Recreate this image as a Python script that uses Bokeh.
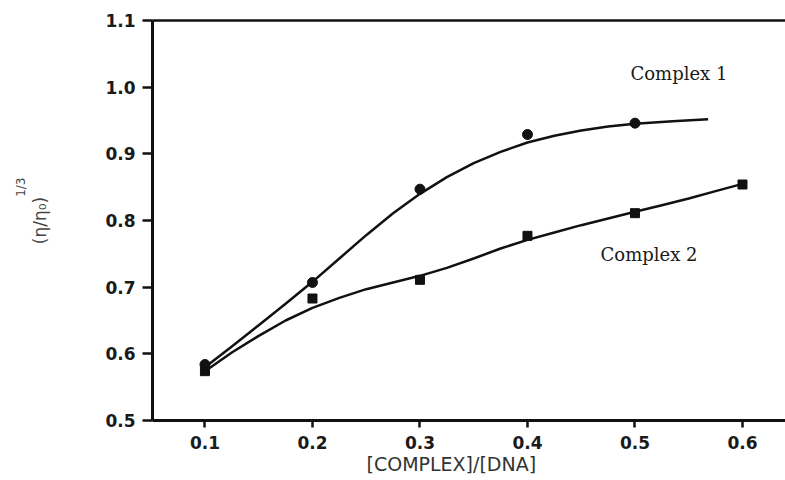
from bokeh.plotting import figure
from bokeh.models import Range1d, LinearAxis, Label, FixedTicker, PrintfTickFormatter, Title
from bokeh.embed import file_html
from bokeh.resources import INLINE

# measured points
x1 = [0.1, 0.2, 0.3, 0.4, 0.5]
y1 = [0.584, 0.707, 0.847, 0.929, 0.946]
x2 = [0.1, 0.2, 0.3, 0.4, 0.5, 0.6]
y2 = [0.574, 0.683, 0.711, 0.777, 0.811, 0.854]

# fitted curves
fit1_x = [0.1, 0.125, 0.15, 0.175, 0.2, 0.225, 0.25, 0.275, 0.3, 0.325, 0.35,
          0.375, 0.4, 0.425, 0.45, 0.475, 0.5, 0.535, 0.568]
fit1_y = [0.580, 0.611, 0.643, 0.675, 0.708, 0.743, 0.778, 0.811, 0.840, 0.865, 0.886,
          0.903, 0.917, 0.927, 0.935, 0.941, 0.945, 0.949, 0.952]
fit2_x = [0.1, 0.125, 0.15, 0.175, 0.2, 0.225, 0.25, 0.275, 0.3, 0.325, 0.35,
          0.375, 0.4, 0.425, 0.45, 0.475, 0.5, 0.525, 0.55, 0.575, 0.6]
fit2_y = [0.574, 0.602, 0.627, 0.650, 0.669, 0.684, 0.697, 0.707, 0.717, 0.729, 0.743,
          0.758, 0.771, 0.782, 0.793, 0.803, 0.813, 0.823, 0.833, 0.844, 0.855]

x_ticks = [0.1, 0.2, 0.3, 0.4, 0.5, 0.6]
y_ticks = [0.5, 0.6, 0.7, 0.8, 0.9, 1.0, 1.1]

series_names = ["Complex 1", "Complex 2"]
x_title = "[COMPLEX]/[DNA]"
y_title = "(η/η₀)"
y_title_sup = "1/3"

p = figure(width=785, height=480, output_backend="svg", toolbar_location=None,
           x_range=Range1d(0.0512, 0.640), y_range=Range1d(0.5, 1.1),
           min_border_left=152, min_border_right=0, min_border_top=20, min_border_bottom=60,
           x_axis_type=None, y_axis_type=None)
p.grid.visible = False
p.outline_line_color = None
p.background_fill_color = "white"
p.border_fill_color = "white"

tick_font = "DejaVu Sans"

ya = LinearAxis(ticker=FixedTicker(ticks=y_ticks), formatter=PrintfTickFormatter(format="%.1f"))
ya.axis_line_width = 3
ya.axis_line_color = "#111111"
ya.major_tick_line_width = 2.5
ya.major_tick_line_color = "#111111"
ya.major_tick_out = 10
ya.major_tick_in = 0
ya.minor_tick_line_color = None
ya.major_label_standoff = 7
ya.major_label_text_font = tick_font
ya.major_label_text_font_style = "bold"
ya.major_label_text_font_size = "17px"
ya.major_label_text_color = "#1a1a1a"
ya.axis_label = y_title
ya.axis_label_standoff = 52
ya.axis_label_text_font = "DejaVu Sans"
ya.axis_label_text_font_size = "17px"
ya.axis_label_text_font_style = "normal"
ya.axis_label_text_color = "#444444"
p.add_layout(ya, "left")

xa = LinearAxis(ticker=FixedTicker(ticks=x_ticks), formatter=PrintfTickFormatter(format="%.1f"))
xa.axis_line_width = 3
xa.axis_line_color = "#111111"
xa.major_tick_line_width = 2.5
xa.major_tick_line_color = "#111111"
xa.major_tick_out = 7
xa.major_tick_in = 0
xa.minor_tick_line_color = None
xa.major_label_standoff = 8
xa.major_label_text_font = tick_font
xa.major_label_text_font_style = "bold"
xa.major_label_text_font_size = "17px"
xa.major_label_text_color = "#1a1a1a"
p.add_layout(xa, "below")

ta = LinearAxis(ticker=FixedTicker(ticks=[]))
ta.axis_line_width = 2.5
ta.axis_line_color = "#111111"
ta.major_tick_line_color = None
ta.minor_tick_line_color = None
ta.major_label_text_alpha = 0
ta.major_label_text_font_size = "1px"
p.add_layout(ta, "above")

# x title and the exponent of the y title
p.add_layout(Title(text=x_title, align="left", offset=214, standoff=2, vertical_align="top",
                   text_font="DejaVu Sans", text_font_size="19px", text_font_style="normal",
                   text_color="#333333"), "below")
p.add_layout(Title(text=y_title_sup, align="right", offset=157, standoff=0,
                   text_font="DejaVu Sans", text_font_size="12px", text_font_style="normal",
                   text_color="#444444"), "left")

# curves and points
p.line(fit1_x, fit1_y, line_width=2.5, line_color="#111111", line_join="round")
p.line(fit2_x, fit2_y, line_width=2.5, line_color="#111111", line_join="round")
p.scatter(x1, y1, marker="circle", size=10, fill_color="#111111", line_color="#111111")
p.scatter(x2, y2, marker="square", size=9, fill_color="#111111", line_color="#111111")

# series labels
p.add_layout(Label(x=0.4958, y=1.0203, text=series_names[0], text_font="DejaVu Serif",
                   text_font_size="18px", text_baseline="middle", text_align="left",
                   text_color="#1a1a1a"))
p.add_layout(Label(x=0.468, y=0.7485, text=series_names[1], text_font="DejaVu Serif",
                   text_font_size="18px", text_baseline="middle", text_align="left",
                   text_color="#1a1a1a"))

open("out.html", "w").write(file_html(p, INLINE))
